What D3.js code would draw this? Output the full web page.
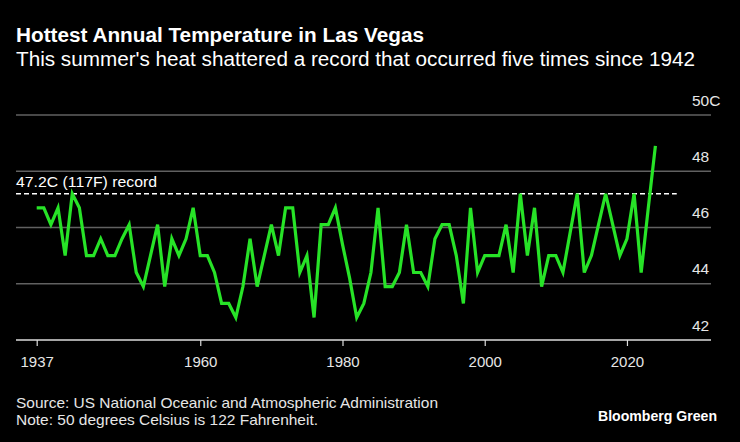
<!DOCTYPE html>
<html>
<head>
<meta charset="utf-8">
<script src="https://cdn.jsdelivr.net/npm/d3@7"></script>
<style>
  html, body { margin: 0; padding: 0; background: #000; }
  svg { display: block; }
  text { font-family: "Liberation Sans", Arial, sans-serif; }
</style>
</head>
<body>
<svg id="chart" width="740" height="442"></svg>
<script>
const years = [1937,1938,1939,1940,1941,1942,1943,1944,1945,1946,1947,1948,1949,1950,1951,1952,1953,1954,1955,1956,
  1957,1958,1959,1960,1961,1962,1963,1964,1965,1966,1967,1968,1969,1970,1971,1972,1973,1974,1975,1976,
  1977,1978,1979,1980,1981,1982,1983,1984,1985,1986,1987,1988,1989,1990,1991,1992,1993,1994,1995,1996,
  1997,1998,1999,2000,2001,2002,2003,2004,2005,2006,2007,2008,2009,2010,2011,2012,2013,2014,2015,2016,
  2017,2018,2019,2020,2021,2022,2023,2024];
const hottestC = [46.7,46.7,46.1,46.7,45.0,47.2,46.7,45.0,45.0,45.6,45.0,45.0,45.6,46.1,44.4,43.9,45.0,46.1,43.9,45.6,
  45.0,45.6,46.7,45.0,45.0,44.4,43.3,43.3,42.8,43.9,45.6,43.9,45.0,46.1,45.0,46.7,46.7,44.4,45.0,42.8,
  46.1,46.1,46.7,45.4,44.2,42.8,43.3,44.4,46.7,43.9,43.9,44.4,46.1,44.4,44.4,43.9,45.6,46.1,46.1,45.0,
  43.3,46.7,44.4,45.0,45.0,45.0,46.1,44.4,47.2,45.0,46.7,43.9,45.0,45.0,44.4,45.8,47.2,44.4,45.0,46.1,
  47.2,46.1,45.0,45.6,47.2,44.4,46.7,48.9];
const xTicks = [1937, 1960, 1980, 2000, 2020];
const yTicks = [42, 44, 46, 48, 50];
const recordValue = 47.2;
const recordLabel = "47.2C (117F) record";
const recordEndYear = 2027;
const title = "Hottest Annual Temperature in Las Vegas";
const subtitle = "This summer's heat shattered a record that occurred five times since 1942";
const sourceNote = "Source: US National Oceanic and Atmospheric Administration";
const note = "Note: 50 degrees Celsius is 122 Fahrenheit.";
const brand = "Bloomberg Green";

const data = years.map((y, i) => ({ year: y, value: hottestC[i] }));

const svg = d3.select("#chart");
svg.append("rect").attr("width", 740).attr("height", 442).attr("fill", "#000");

const gridLeft = 16, gridRight = 711;
const x = d3.scaleLinear().domain([1937, 2024]).range([36.7, 655.4]);
const y = d3.scaleLinear().domain([42, 50]).range([340, 115]);

// Titles
svg.append("text").attr("x", 16).attr("y", 42)
  .attr("fill", "#fff").attr("font-size", 20).attr("font-weight", "bold")
  .attr("textLength", 408).attr("lengthAdjust", "spacingAndGlyphs")
  .text(title);
svg.append("text").attr("x", 16).attr("y", 66)
  .attr("fill", "#fff").attr("font-size", 19.5)
  .attr("textLength", 679).attr("lengthAdjust", "spacingAndGlyphs")
  .text(subtitle);

// Gridlines
const grid = svg.append("g");
grid.selectAll("line").data(yTicks.filter(d => d !== 42)).join("line")
  .attr("x1", gridLeft).attr("x2", gridRight)
  .attr("y1", d => y(d)).attr("y2", d => y(d))
  .attr("stroke", "#616161").attr("stroke-width", 1.3);

// Y labels
svg.append("g").selectAll("text").data(yTicks).join("text")
  .attr("x", 692).attr("y", d => y(d) - 9.5)
  .attr("fill", "#e6e6e6").attr("font-size", 15.5)
  .text(d => d === 50 ? d + "C" : d);

// X axis
const xAxis = d3.axisBottom(x).tickValues(xTicks).tickFormat(d3.format("d")).tickSize(6).tickPadding(10);
const gx = svg.append("g").attr("transform", `translate(0,${y(42)})`).call(xAxis);
gx.select(".domain").remove();
gx.selectAll(".tick line").attr("stroke", "#ddd").attr("stroke-width", 1.2);
gx.selectAll(".tick text").attr("fill", "#e6e6e6").attr("font-size", 15)
  .attr("font-family", "'Liberation Sans', Arial, sans-serif");
svg.append("line").attr("x1", gridLeft).attr("x2", gridRight)
  .attr("y1", y(42)).attr("y2", y(42)).attr("stroke", "#ddd").attr("stroke-width", 1.5);

// Record line
svg.append("line").attr("x1", gridLeft).attr("x2", x(recordEndYear))
  .attr("y1", y(recordValue)).attr("y2", y(recordValue))
  .attr("stroke", "#fff").attr("stroke-width", 1.5).attr("stroke-dasharray", "5,3");
svg.append("text").attr("x", 16).attr("y", y(recordValue) - 6.5)
  .attr("fill", "#fff").attr("font-size", 15.5)
  .attr("textLength", 141).attr("lengthAdjust", "spacingAndGlyphs")
  .text(recordLabel);

// Data line
const line = d3.line().x(d => x(d.year)).y(d => y(d.value));
svg.append("path").datum(data).attr("d", line)
  .attr("fill", "none").attr("stroke", "#27e327").attr("stroke-width", 3.2);

// Footer
svg.append("text").attr("x", 16).attr("y", 408)
  .attr("fill", "#e6e6e6").attr("font-size", 15)
  .attr("textLength", 422).attr("lengthAdjust", "spacingAndGlyphs")
  .text(sourceNote);
svg.append("text").attr("x", 16).attr("y", 425)
  .attr("fill", "#e6e6e6").attr("font-size", 15)
  .attr("textLength", 302).attr("lengthAdjust", "spacingAndGlyphs")
  .text(note);
svg.append("text").attr("x", 598).attr("y", 421)
  .attr("fill", "#fff").attr("font-size", 14).attr("font-weight", "bold")
  .attr("textLength", 119).attr("lengthAdjust", "spacingAndGlyphs")
  .text(brand);
</script>
</body>
</html>
